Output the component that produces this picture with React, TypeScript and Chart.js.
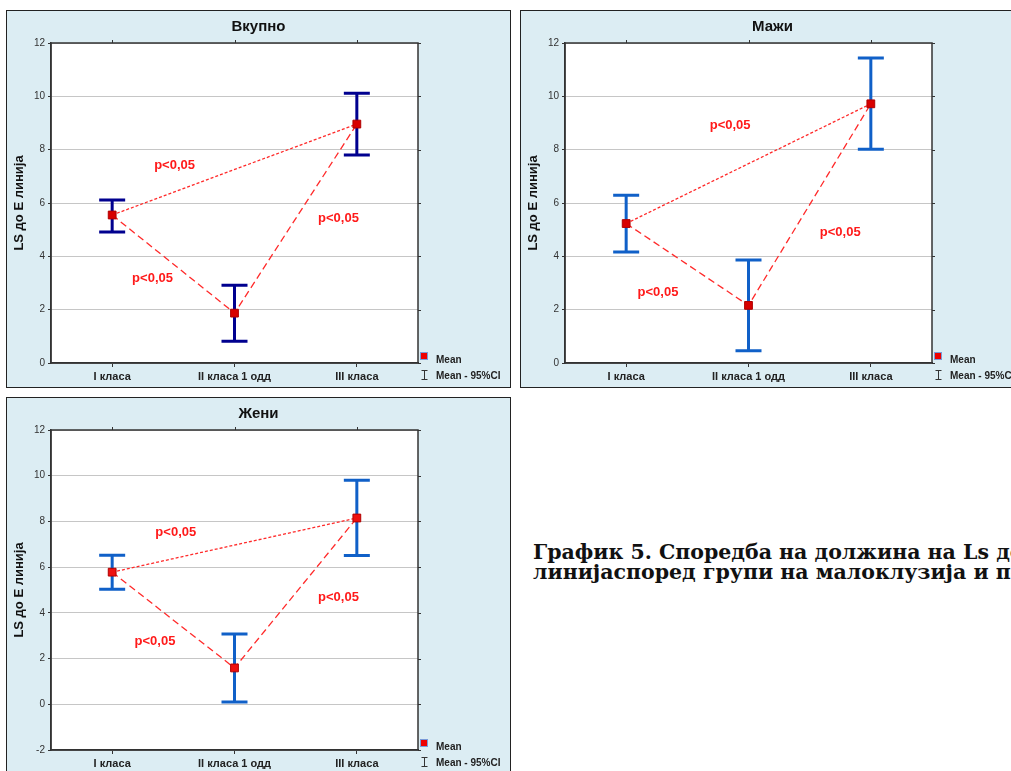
import React, { useEffect, useRef } from "react";
import { Chart, registerables } from "chart.js";

Chart.register(...registerables);

// Groups on the x axis
const categories = ["I класа", "II класа 1 одд", "III класа"];

// Вкупно: mean and 95% confidence limits
const totalMean = [5.55, 1.87, 8.96];
const totalLower = [4.91, 0.82, 7.8];
const totalUpper = [6.11, 2.92, 10.12];

// Мажи
const maleMean = [5.23, 2.16, 9.72];
const maleLower = [4.16, 0.46, 8.02];
const maleUpper = [6.29, 3.86, 11.44];

// Жени
const femaleMean = [5.78, 1.59, 8.15];
const femaleLower = [5.03, 0.1, 6.51];
const femaleUpper = [6.52, 3.07, 9.8];

const panelTitles = ["Вкупно", "Мажи", "Жени"];
const yAxisTitle = "LS до Е линија";
const pLabel = "p<0,05";
const legendMean = "Mean";
const legendCI = "Mean - 95%CI";
const captionLines = [
  "График 5. Споредба на должина на Ls до Е",
  "линијаспоред групи на малоклузија и пол",
];

const SANS = "Arial, 'Liberation Sans', sans-serif";
const CANVAS_W = 503;
const CANVAS_H = 376;

type LabelPos = { x: number; y: number };

type PanelProps = {
  title: string;
  mean: number[];
  lower: number[];
  upper: number[];
  yMin: number;
  barColor: string;
  markerColor: string;
  labels: LabelPos[];
  left: number;
  top: number;
};

function Panel(props: PanelProps) {
  const ref = useRef<HTMLCanvasElement | null>(null);

  useEffect(() => {
    const canvas = ref.current;
    if (!canvas) return;
    const { mean, lower, upper, yMin, barColor, markerColor, labels, title } = props;

    const decor = {
      id: "statDecor",
      beforeDraw(chart: any) {
        // white plotting area inside the tinted panel
        const { ctx, chartArea } = chart;
        ctx.save();
        ctx.fillStyle = "#ffffff";
        ctx.fillRect(
          chartArea.left,
          chartArea.top,
          chartArea.right - chartArea.left,
          chartArea.bottom - chartArea.top
        );
        ctx.restore();
      },
      beforeDatasetsDraw(chart: any) {
        const { ctx, scales } = chart;
        const xs = scales.x;
        const ys = scales.y;
        ctx.save();
        // confidence interval whiskers
        ctx.strokeStyle = barColor;
        ctx.lineWidth = 3;
        ctx.lineCap = "butt";
        for (let i = 0; i < categories.length; i++) {
          const px = xs.getPixelForValue(i);
          const yl = ys.getPixelForValue(lower[i]);
          const yu = ys.getPixelForValue(upper[i]);
          ctx.beginPath();
          ctx.moveTo(px, yl);
          ctx.lineTo(px, yu);
          ctx.moveTo(px - 13, yl);
          ctx.lineTo(px + 13, yl);
          ctx.moveTo(px - 13, yu);
          ctx.lineTo(px + 13, yu);
          ctx.stroke();
        }
        ctx.restore();
      },
      afterDatasetsDraw(chart: any) {
        const { ctx, chartArea, scales } = chart;
        const xs = scales.x;
        const ys = scales.y;
        const { left, right, top, bottom } = chartArea;
        ctx.save();

        // plot frame with outward ticks on top and right
        ctx.strokeStyle = "#333";
        ctx.lineWidth = 1.5;
        ctx.strokeRect(left, top, right - left, bottom - top);
        ctx.lineWidth = 1;
        ctx.beginPath();
        for (let i = 0; i < categories.length; i++) {
          const px = Math.round(xs.getPixelForValue(i)) + 0.5;
          ctx.moveTo(px, top);
          ctx.lineTo(px, top - 3);
        }
        ys.ticks.forEach((t: any) => {
          const py = Math.round(ys.getPixelForValue(t.value)) + 0.5;
          ctx.moveTo(right, py);
          ctx.lineTo(right + 3, py);
        });
        ctx.stroke();

        // significance labels
        ctx.fillStyle = "#ff1a1a";
        ctx.font = `bold 13px ${SANS}`;
        ctx.textAlign = "center";
        ctx.textBaseline = "middle";
        labels.forEach((p) => {
          ctx.fillText(pLabel, xs.getPixelForValue(p.x), ys.getPixelForValue(p.y));
        });

        // panel title
        ctx.fillStyle = "#111";
        ctx.font = `bold 15px ${SANS}`;
        ctx.fillText(title, chart.width / 2, 16);

        // legend
        const lx = right + 6;
        ctx.fillStyle = "#ee0000";
        ctx.fillRect(lx - 3.5, bottom - 10.5, 7, 7);
        ctx.strokeStyle = "#7a9ad8";
        ctx.lineWidth = 1;
        ctx.strokeRect(lx - 3.5, bottom - 10.5, 7, 7);
        ctx.strokeStyle = "#333";
        ctx.beginPath();
        ctx.moveTo(lx + 0.5, bottom + 7);
        ctx.lineTo(lx + 0.5, bottom + 17);
        ctx.moveTo(lx - 2.5, bottom + 7.5);
        ctx.lineTo(lx + 3.5, bottom + 7.5);
        ctx.moveTo(lx - 2.5, bottom + 16.5);
        ctx.lineTo(lx + 3.5, bottom + 16.5);
        ctx.stroke();
        ctx.fillStyle = "#222";
        ctx.font = `bold 10px ${SANS}`;
        ctx.textAlign = "left";
        ctx.fillText(legendMean, lx + 12, bottom - 3);
        ctx.fillText(legendCI, lx + 12, bottom + 13);
        ctx.restore();
      },
    };

    const chart = new Chart(canvas, {
      type: "line",
      data: {
        labels: categories,
        datasets: [
          {
            label: legendMean,
            data: mean,
            showLine: false,
            pointStyle: "rect",
            pointRadius: 5.5,
            pointBackgroundColor: markerColor,
            pointBorderColor: "#b00000",
            pointBorderWidth: 1,
          },
          {
            label: "I - II - III",
            data: mean,
            borderColor: "#ff2a2a",
            borderWidth: 1.3,
            borderDash: [7, 4],
            pointRadius: 0,
            fill: false,
          },
          {
            label: "I - III",
            data: [
              { x: categories[0], y: mean[0] },
              { x: categories[2], y: mean[2] },
            ],
            borderColor: "#ff2a2a",
            borderWidth: 1.3,
            borderDash: [3, 2],
            pointRadius: 0,
            fill: false,
          },
        ],
      } as any,
      options: {
        animation: false,
        responsive: false,
        maintainAspectRatio: false,
        events: [],
        layout: { padding: { left: 0, top: 32, right: 92, bottom: 0 } },
        plugins: {
          legend: { display: false },
          title: { display: false },
          tooltip: { enabled: false },
        },
        scales: {
          x: {
            type: "category",
            offset: true,
            grid: {
              display: true,
              offset: false,
              drawOnChartArea: false,
              drawTicks: true,
              tickLength: 4,
              color: "#333",
            },
            border: { display: true, color: "#333", width: 1.5 },
            ticks: {
              color: "#222",
              font: { family: SANS, size: 11, weight: "bold" },
              padding: 3,
              maxRotation: 0,
              autoSkip: false,
            },
            afterFit(scale: any) {
              scale.height = 24;
            },
          },
          y: {
            min: yMin,
            max: 12,
            grid: {
              color: "#c6c6c6",
              lineWidth: 1,
              tickLength: 3,
              tickColor: "#333",
            },
            border: { display: true, color: "#333", width: 1.5 },
            ticks: {
              stepSize: 2,
              color: "#333",
              font: { family: SANS, size: 10 },
              padding: 3,
            },
            title: {
              display: true,
              text: yAxisTitle,
              color: "#111",
              font: { family: SANS, size: 13, weight: "bold" },
              padding: { top: 5, bottom: 0 },
            },
            afterFit(scale: any) {
              scale.width = 44;
            },
          },
        },
      } as any,
      plugins: [decor],
    });

    return () => chart.destroy();
  }, []);

  return (
    <div
      style={{
        position: "absolute",
        left: props.left,
        top: props.top,
        width: CANVAS_W,
        height: CANVAS_H,
        border: "1px solid #222",
        background: "#dcedf3",
      }}
    >
      <canvas ref={ref} width={CANVAS_W} height={CANVAS_H} style={{ display: "block" }} />
    </div>
  );
}

export default function App() {
  return (
    <div
      style={{
        position: "fixed",
        left: 0,
        top: 0,
        width: 1011,
        height: 771,
        overflow: "hidden",
        background: "#fff",
      }}
    >
      <Panel
        title={panelTitles[0]}
        mean={totalMean}
        lower={totalLower}
        upper={totalUpper}
        yMin={0}
        barColor="#00008f"
        markerColor="#d80000"
        labels={[
          { x: 0.51, y: 7.42 },
          { x: 1.85, y: 5.44 },
          { x: 0.33, y: 3.19 },
        ]}
        left={6}
        top={10}
      />
      <Panel
        title={panelTitles[1]}
        mean={maleMean}
        lower={maleLower}
        upper={maleUpper}
        yMin={0}
        barColor="#1060c8"
        markerColor="#d80000"
        labels={[
          { x: 0.85, y: 8.91 },
          { x: 1.75, y: 4.9 },
          { x: 0.26, y: 2.66 },
        ]}
        left={520}
        top={10}
      />
      <Panel
        title={panelTitles[2]}
        mean={femaleMean}
        lower={femaleLower}
        upper={femaleUpper}
        yMin={-2}
        barColor="#1060c8"
        markerColor="#ee1010"
        labels={[
          { x: 0.52, y: 7.51 },
          { x: 1.85, y: 4.67 },
          { x: 0.35, y: 2.75 },
        ]}
        left={6}
        top={397}
      />
      <div
        style={{
          position: "absolute",
          left: 533,
          top: 542,
          font: "bold 20.5px 'DejaVu Serif', Georgia, serif",
          lineHeight: "20px",
          whiteSpace: "nowrap",
          color: "#111",
        }}
      >
        {captionLines.map((l) => (
          <div key={l}>{l}</div>
        ))}
      </div>
    </div>
  );
}
